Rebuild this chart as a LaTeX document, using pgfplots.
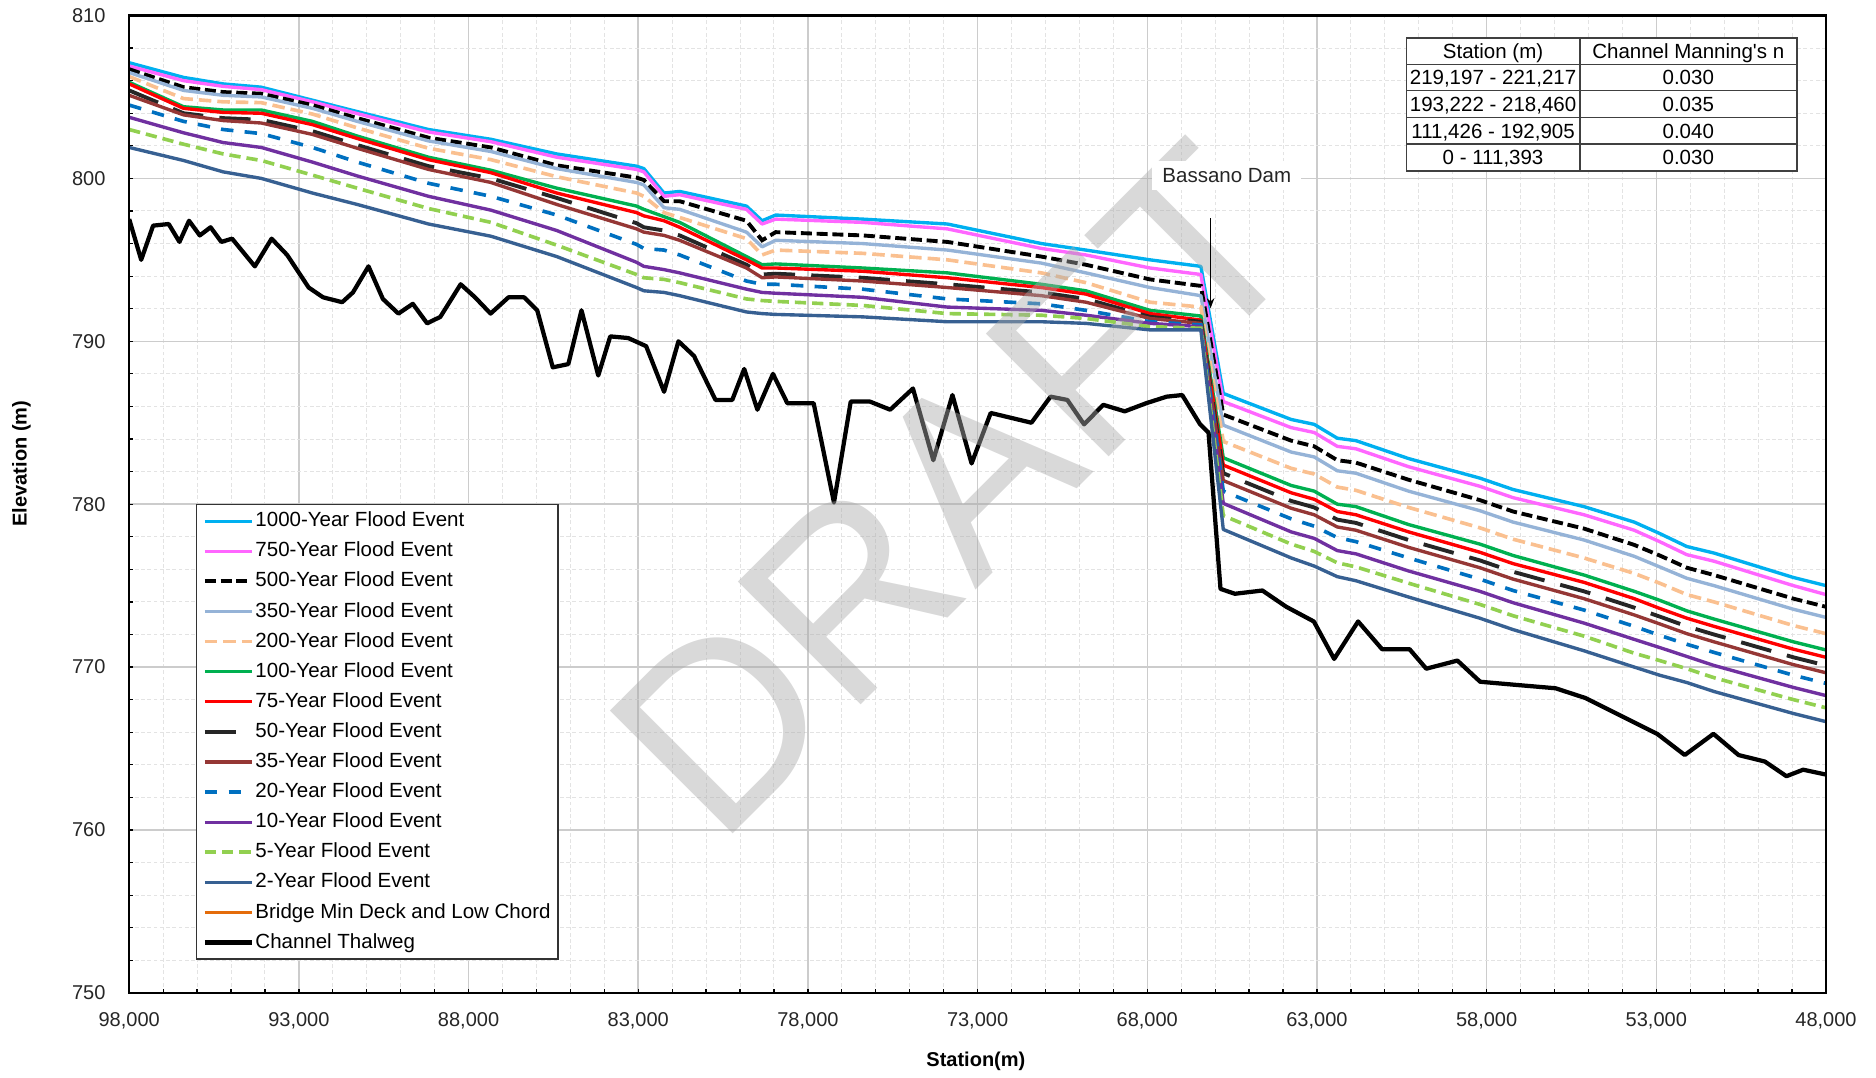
\documentclass[border=0pt]{standalone}
\usepackage{fontspec}
\setmainfont{Liberation Sans}
\usepackage{pgfplots}
\usepackage{pgfplotstable}
\pgfplotsset{compat=1.18}
\usetikzlibrary{arrows.meta}

\definecolor{cA}{HTML}{00B0F0}
\definecolor{cB}{HTML}{FF66FF}
\definecolor{cC}{HTML}{000000}
\definecolor{cD}{HTML}{95B3D7}
\definecolor{cE}{HTML}{FAC090}
\definecolor{cF}{HTML}{00B050}
\definecolor{cG}{HTML}{FF0000}
\definecolor{cH}{HTML}{262626}
\definecolor{cI}{HTML}{953735}
\definecolor{cJ}{HTML}{0070C0}
\definecolor{cK}{HTML}{7030A0}
\definecolor{cL}{HTML}{92D050}
\definecolor{cM}{HTML}{376092}
\definecolor{cN}{HTML}{E46C0A}
\definecolor{wm}{RGB}{170,170,170}

\pgfplotstableread{
st q1000 q750 q500 q350 q200 q100 q75 q50 q35 q20 q10 q5 q2
98000 807.1 806.9 806.7 806.5 806.25 805.9 805.8 805.4 805.1 804.5 803.75 803.0 801.9
96400 806.2 806.0 805.6 805.4 804.9 804.4 804.3 804.0 803.9 803.5 802.8 802.1 801.1
95230 805.8 805.65 805.3 805.1 804.7 804.2 804.05 803.7 803.55 803.0 802.2 801.5 800.4
94110 805.6 805.45 805.2 805.0 804.65 804.2 804.0 803.6 803.4 802.75 801.9 801.1 800.0
92600 804.8 804.7 804.5 804.3 803.95 803.5 803.3 802.9 802.7 801.9 801.0 800.2 799.1
91280 804.1 803.98 803.7 803.5 803.1 802.6 802.45 802.05 801.85 801.0 800.15 799.4 798.4
89180 803.0 802.85 802.5 802.3 801.85 801.3 801.15 800.75 800.55 799.7 798.9 798.15 797.2
87340 802.4 802.25 801.9 801.65 801.15 800.5 800.35 800.0 799.75 798.9 798.05 797.3 796.45
85400 801.5 801.3 800.8 800.6 800.1 799.4 799.1 798.8 798.4 797.75 796.8 795.9 795.2
83050 800.75 800.55 800.05 799.75 799.1 798.3 797.9 797.25 796.9 795.95 794.85 794.1 793.3
82835 800.6 800.4 799.9 799.6 798.9 798.1 797.7 797.0 796.7 795.7 794.6 793.9 793.1
82240 799.1 798.9 798.6 798.2 797.9 797.65 797.4 796.8 796.5 795.6 794.4 793.8 793.0
81780 799.2 799.0 798.6 798.1 797.6 797.3 797.0 796.5 796.2 795.3 794.2 793.6 792.8
79810 798.3 798.1 797.4 796.7 796.3 795.2 795.0 794.7 794.5 793.7 793.2 792.6 791.8
79350 797.4 797.2 796.2 795.8 795.3 794.7 794.5 794.1 793.9 793.5 793.0 792.5 791.7
78950 797.75 797.5 796.7 796.2 795.6 794.75 794.5 794.15 793.95 793.5 792.95 792.45 791.65
76390 797.5 797.3 796.5 796.0 795.4 794.5 794.3 793.9 793.7 793.2 792.7 792.2 791.5
73890 797.2 796.9 796.1 795.6 795.0 794.2 793.9 793.5 793.3 792.6 792.1 791.7 791.2
71120 796.0 795.7 795.2 794.8 794.2 793.5 793.3 793.0 792.8 792.3 791.9 791.6 791.2
69810 795.6 795.3 794.7 794.2 793.6 793.1 792.9 792.6 792.4 791.9 791.6 791.4 791.1
67920 795.0 794.5 793.8 793.3 792.4 791.9 791.7 791.5 791.4 791.2 791.1 790.9 790.7
66420 794.6 794.1 793.4 792.8 792.1 791.55 791.3 791.2 791.1 791.0 790.9 790.8 790.7
65760 786.8 786.3 785.5 784.85 783.85 782.85 782.4 781.9 781.45 780.8 780.05 779.3 778.45
63760 785.2 784.7 783.9 783.2 782.2 781.15 780.7 780.2 779.75 779.1 778.3 777.55 776.7
63080 784.9 784.4 783.55 782.9 781.85 780.8 780.3 779.8 779.35 778.65 777.9 777.1 776.2
62400 784.05 783.55 782.7 782.05 781.05 780.0 779.55 779.05 778.6 777.95 777.15 776.4 775.55
61850 783.9 783.4 782.55 781.9 780.85 779.85 779.35 778.85 778.4 777.7 776.95 776.15 775.3
60300 782.8 782.3 781.5 780.8 779.8 778.75 778.3 777.8 777.35 776.7 775.9 775.15 774.3
58200 781.6 781.1 780.25 779.6 778.55 777.55 777.05 776.55 776.1 775.4 774.65 773.85 773.0
57220 780.9 780.4 779.55 778.9 777.85 776.85 776.35 775.85 775.4 774.7 773.95 773.15 772.3
55130 779.85 779.35 778.5 777.8 776.7 775.65 775.2 774.65 774.2 773.5 772.7 771.9 771.0
53650 778.9 778.4 777.5 776.8 775.75 774.65 774.2 773.65 773.2 772.5 771.7 770.85 770.0
52900 778.2 777.7 776.85 776.15 775.15 774.1 773.6 773.1 772.65 771.95 771.2 770.4 769.5
52100 777.4 776.9 776.1 775.45 774.45 773.45 773.0 772.5 772.05 771.4 770.65 769.9 769.05
51300 777.0 776.5 775.65 775.0 774.0 772.95 772.5 772.0 771.55 770.9 770.1 769.35 768.5
48960 775.5 775.0 774.2 773.55 772.55 771.55 771.1 770.6 770.15 769.5 768.75 768.0 767.15
48000 775.0 774.45 773.7 773.05 772.05 771.05 770.6 770.1 769.65 769.0 768.25 767.5 766.65
}\floodtable

\pgfplotstableread{
st z
98000 797.5
97647 795.0
97295 797.1
96836 797.2
96519 796.1
96237 797.4
95920 796.5
95602 797.0
95285 796.1
94968 796.3
94298 794.6
93804 796.3
93346 795.3
92711 793.3
92288 792.7
91724 792.4
91407 793.0
90948 794.6
90525 792.6
90067 791.7
89643 792.3
89220 791.1
88832 791.5
88233 793.5
87810 792.7
87351 791.7
86823 792.7
86364 792.7
85976 791.9
85518 788.4
85060 788.6
84672 791.9
84178 787.9
83825 790.3
83296 790.2
82767 789.7
82238 786.9
81815 790.0
81357 789.1
80723 786.4
80229 786.4
79877 788.3
79489 785.8
79030 788.0
78607 786.2
77831 786.2
77232 780.1
76738 786.3
76174 786.3
75575 785.8
74905 787.1
74305 782.7
73741 786.7
73177 782.5
72613 785.6
72013 785.3
71414 785.0
70850 786.6
70356 786.4
69862 784.9
69298 786.1
68664 785.7
68029 786.2
67430 786.6
66971 786.7
66442 784.9
66195 784.4
65842 774.8
65419 774.5
64608 774.7
63903 773.7
63092 772.8
62493 770.5
61787 772.8
61082 771.1
60272 771.1
59778 769.9
58861 770.4
58191 769.1
57098 768.9
55970 768.7
55089 768.1
54031 767.0
52973 765.9
52162 764.6
51316 765.9
50576 764.6
49800 764.2
49165 763.3
48672 763.7
48000 763.4
}\thalwegtable

\newcommand{\ls}{\rule[-1.9pt]{0pt}{7.6pt}}

\begin{document}
\begin{tikzpicture}
\path[use as bounding box] (-51.7pt,-34pt) rectangle (698.8pt,397.2pt);
\begin{axis}[
  at={(0pt,0pt)}, anchor=south west,
  scale only axis, width=678.8pt, height=391pt,
  x dir=reverse, xmin=48000, xmax=98000, ymin=750, ymax=810,
  xtick={48000,53000,...,98000}, ytick={750,760,...,810},
  scaled x ticks=false, scaled y ticks=false,
  minor x tick num=4, minor y tick num=4,
  grid=both,
  major grid style={draw=black!20, line width=0.6pt},
  minor grid style={draw=black!11, line width=0.4pt, dash pattern=on 1.5pt off 1pt},
  tick align=inside, tick pos=left,
  major tick length=1.4pt, minor tick length=1.4pt,
  tick style={black, line width=0.5pt},
  /pgf/number format/1000 sep={,},
  /pgf/number format/assume math mode=true,
  ticklabel style={font=\fontsize{8}{9.6}\selectfont, text=black!85},
  yticklabel style={xshift=-6pt},
  xticklabel style={yshift=-4.5pt},
  xlabel={Station(m)}, ylabel={Elevation (m)},
  label style={font=\bfseries\fontsize{8}{9.6}\selectfont},
  xlabel style={at={(axis description cs:0.499,-0.0696)}, anchor=center},
  ylabel style={at={(axis description cs:-0.0635,0.5415)}, anchor=center},
  no markers,
  legend style={at={(0.0392,0.5003)}, anchor=north west, draw=black!80, line width=0.6pt, fill=white,
     font=\fontsize{8.2}{9.8}\selectfont, row sep=2.6pt, column sep=0.2pt,
     inner xsep=2.5pt, inner ysep=1.9pt, nodes={inner xsep=0.5pt, inner ysep=1pt}},
  legend cell align=left,
  legend image code/.code={\draw[#1] (0pt,0pt) -- (18.7pt,0pt);},
]
\addplot[cA, line width=1.35pt, line join=round] table[x=st, y=q1000] {\floodtable};
\addlegendentry{\ls 1000-Year Flood Event}
\addplot[cB, line width=1.35pt, line join=round] table[x=st, y=q750] {\floodtable};
\addlegendentry{\ls 750-Year Flood Event}
\addplot[cC, line width=1.55pt, dash pattern=on 4.4pt off 1.9pt] table[x=st, y=q500] {\floodtable};
\addlegendentry{\ls 500-Year Flood Event}
\addplot[cD, line width=1.35pt, line join=round] table[x=st, y=q350] {\floodtable};
\addlegendentry{\ls 350-Year Flood Event}
\addplot[cE, line width=1.45pt, dash pattern=on 5pt off 2.4pt] table[x=st, y=q200] {\floodtable};
\addlegendentry{\ls 200-Year Flood Event}
\addplot[cF, line width=1.35pt, line join=round] table[x=st, y=q100] {\floodtable};
\addlegendentry{\ls 100-Year Flood Event}
\addplot[cG, line width=1.35pt, line join=round] table[x=st, y=q75] {\floodtable};
\addlegendentry{\ls 75-Year Flood Event}
\addplot[cH, line width=1.55pt, dash pattern=on 12.5pt off 6.5pt] table[x=st, y=q50] {\floodtable};
\addlegendentry{\ls 50-Year Flood Event}
\addplot[cI, line width=1.35pt, line join=round] table[x=st, y=q35] {\floodtable};
\addlegendentry{\ls 35-Year Flood Event}
\addplot[cJ, line width=1.45pt, dash pattern=on 5pt off 4.5pt] table[x=st, y=q20] {\floodtable};
\addlegendentry{\ls 20-Year Flood Event}
\addplot[cK, line width=1.35pt, line join=round] table[x=st, y=q10] {\floodtable};
\addlegendentry{\ls 10-Year Flood Event}
\addplot[cL, line width=1.45pt, dash pattern=on 4.5pt off 2.4pt] table[x=st, y=q5] {\floodtable};
\addlegendentry{\ls 5-Year Flood Event}
\addplot[cM, line width=1.35pt, line join=round] table[x=st, y=q2] {\floodtable};
\addlegendentry{\ls 2-Year Flood Event}
\addlegendimage{cN, line width=1.4pt}
\addlegendentry{\ls Bridge Min Deck and Low Chord}
\addplot[black, line width=1.7pt, line join=round] table[x=st, y=z] {\thalwegtable};
\addlegendentry{\ls Channel Thalweg}
\end{axis}

% watermark
\node[text=wm, text opacity=0.45, font=\fontsize{101}{101}\selectfont, inner sep=0pt, rotate=45]
  at (330pt,201.4pt) {DRAFT};

% frame
\draw[line width=1pt, black] (0pt,0pt) rectangle (678.8pt,391pt);

% Bassano Dam annotation
\node[fill=white, inner xsep=4pt, inner ysep=3pt, anchor=base, font=\fontsize{8.2}{9.8}\selectfont, text=black!85]
  at (439.1pt,324.25pt) {Bassano Dam};
\draw[-{Stealth[length=4pt,width=3pt]}, line width=0.5pt] (432.6pt,309.9pt) -- (432.6pt,273.9pt);

% Manning's n table
\begin{scope}[font=\fontsize{8.2}{9.8}\selectfont]
\fill[white] (510.9pt,328.8pt) rectangle (667.1pt,382.0pt);
\draw[black!75, line width=0.6pt] (510.9pt,328.8pt) rectangle (667.1pt,382.0pt);
\draw[black!75, line width=0.6pt] (580.3pt,328.8pt) -- (580.3pt,382.0pt);
\foreach \yy in {371.3,361.0,350.2,339.5} {\draw[black!75, line width=0.6pt] (510.9pt,\yy pt) -- (667.1pt,\yy pt);}
\node[anchor=base] at (545.6pt,373.7pt) {Station (m)};
\node[anchor=base] at (623.7pt,373.7pt) {Channel Manning\textquotesingle s n};
\node[anchor=base] at (545.6pt,363.2pt) {219,197 - 221,217};
\node[anchor=base] at (623.7pt,363.2pt) {0.030};
\node[anchor=base] at (545.6pt,352.65pt) {193,222 - 218,460};
\node[anchor=base] at (623.7pt,352.65pt) {0.035};
\node[anchor=base] at (545.6pt,341.9pt) {111,426 - 192,905};
\node[anchor=base] at (623.7pt,341.9pt) {0.040};
\node[anchor=base] at (545.6pt,331.2pt) {0 - 111,393};
\node[anchor=base] at (623.7pt,331.2pt) {0.030};
\end{scope}
\end{tikzpicture}
\end{document}
